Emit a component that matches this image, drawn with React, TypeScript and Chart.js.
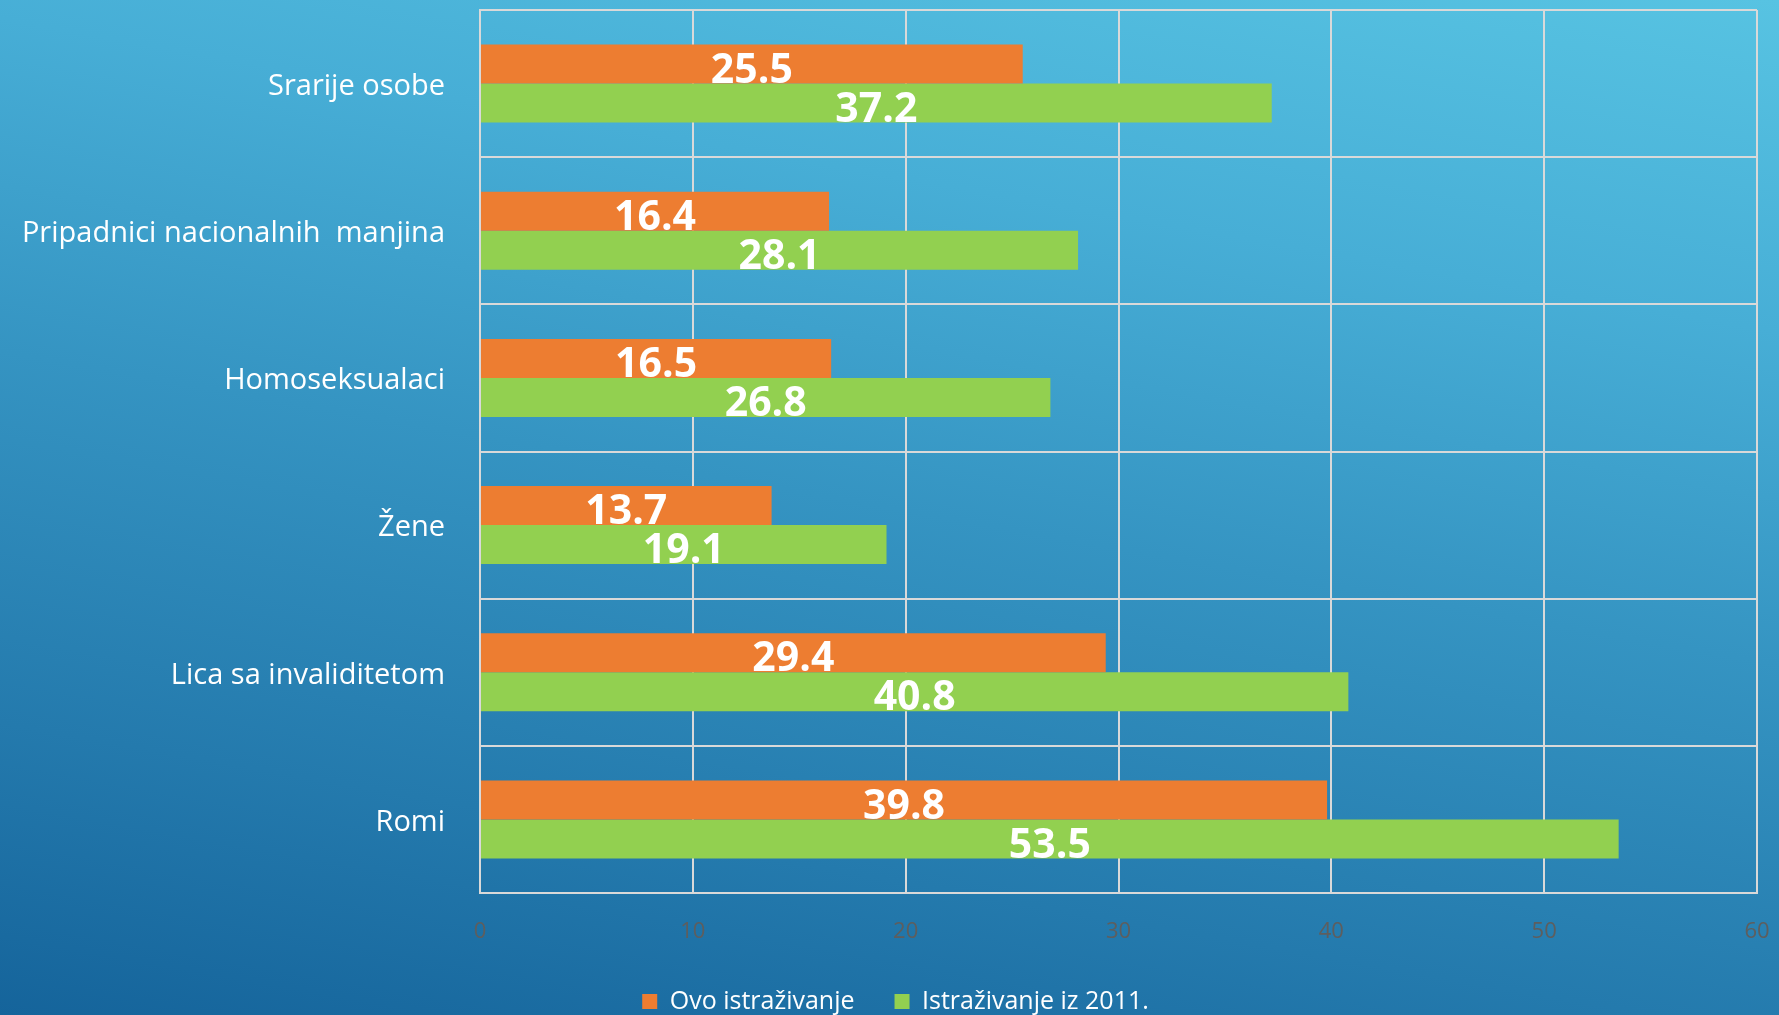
import React, { useEffect, useRef } from "react";
import { Chart, registerables } from "chart.js";

Chart.register(...registerables);

const categories = [
  "Srarije osobe",
  "Pripadnici nacionalnih  manjina",
  "Homoseksualaci",
  "Žene",
  "Lica sa invaliditetom",
  "Romi",
];
const seriesNames = ["Ovo istraživanje", "Istraživanje iz 2011."];
const currentValues = [25.5, 16.4, 16.5, 13.7, 29.4, 39.8];
const values2011 = [37.2, 28.1, 26.8, 19.1, 40.8, 53.5];
const xTickValues = [0, 10, 20, 30, 40, 50, 60];

const ORANGE = "#ED7D31";
const GREEN = "#92D050";
const GRID = "#D9D9D9";

const W = 1779;
const H = 1015;
const CANVAS_H = 1024;

const valueLabels = {
  id: "valueLabels",
  afterDatasetsDraw(chart: any) {
    const ctx = chart.ctx;
    ctx.save();
    ctx.fillStyle = "#FFFFFF";
    ctx.font = "bold 41px 'Open Sans'";
    ctx.textAlign = "center";
    ctx.textBaseline = "middle";
    chart.data.datasets.forEach((ds: any, di: number) => {
      const meta = chart.getDatasetMeta(di);
      meta.data.forEach((bar: any, i: number) => {
        const v = ds.data[i];
        const cx = (bar.base + bar.x) / 2;
        ctx.fillText(v.toFixed(1), cx, bar.y + 7);
      });
    });
    ctx.restore();
  },
};

const legendShift = {
  id: "legendShift",
  afterLayout(chart: any) {
    if (chart.legend) {
      chart.legend.left += 17;
      chart.legend.right += 17;
    }
  },
};

export default function App() {
  const ref = useRef<HTMLCanvasElement | null>(null);

  useEffect(() => {
    document.body.style.margin = "0";
    const canvas = ref.current;
    if (!canvas) return;
    const chart = new Chart(canvas, {
      type: "bar",
      data: {
        labels: categories,
        datasets: [
          {
            label: seriesNames[0],
            data: currentValues,
            backgroundColor: ORANGE,
            borderWidth: 0,
          },
          {
            label: seriesNames[1],
            data: values2011,
            backgroundColor: GREEN,
            borderWidth: 0,
          },
        ],
      },
      options: {
        indexAxis: "y",
        responsive: false,
        devicePixelRatio: 1,
        animation: false,
        datasets: {
          bar: { categoryPercentage: 0.53, barPercentage: 1 },
        },
        layout: { padding: { top: 10, right: 22, left: 0, bottom: 0 } },
        scales: {
          x: {
            min: 0,
            max: 60,
            afterBuildTicks: (scale: any) => {
              scale.ticks = xTickValues.map((v) => ({ value: v }));
            },
            afterFit: (scale: any) => {
              scale.height = 56;
              scale.paddingLeft = 0;
              scale.paddingRight = 0;
            },
            grid: { color: GRID, lineWidth: 2, drawTicks: false },
            border: { color: GRID, width: 2 },
            ticks: {
              color: "#5e5e5e",
              font: { family: "'Open Sans'", size: 22 },
              padding: 26,
              maxRotation: 0,
            },
          },
          y: {
            afterFit: (scale: any) => {
              scale.width = 480;
              scale.paddingTop = 0;
              scale.paddingBottom = 0;
            },
            grid: { color: GRID, lineWidth: 2, drawTicks: false, offset: true },
            border: { color: GRID, width: 2 },
            ticks: {
              color: "#FFFFFF",
              font: { family: "'Open Sans'", size: 29 },
              padding: 35,
              labelOffset: 3,
            },
          },
        },
        plugins: {
          legend: {
            position: "bottom",
            labels: {
              color: "#FFFFFF",
              font: { family: "'Open Sans'", size: 25 },
              boxWidth: 15,
              boxHeight: 15,
              padding: 40,
            },
          },
          tooltip: { enabled: false },
        },
      },
      plugins: [valueLabels, legendShift],
    } as any);
    return () => chart.destroy();
  }, []);

  return (
    <div
      style={{
        position: "fixed",
        left: 0,
        top: 0,
        width: W,
        height: H,
        overflow: "hidden",
        background:
          "linear-gradient(190deg, #57c3e2 0%, #47aed6 25%, #3594c2 50%, #247aad 78%, #15649b 100%)",
      }}
    >
      <canvas
        ref={ref}
        width={W}
        height={CANVAS_H}
        style={{ display: "block", width: W, height: CANVAS_H }}
      />
    </div>
  );
}
